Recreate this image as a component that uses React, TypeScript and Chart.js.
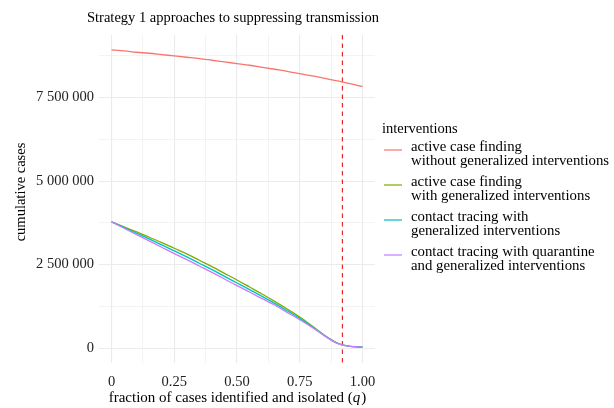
import React, { useEffect, useRef } from "react";
import { Chart, registerables } from "chart.js";

Chart.register(...registerables);

// Fraction of cases identified and isolated (q)
const qValues = [0, 0.05, 0.1, 0.15, 0.2, 0.25, 0.3, 0.35, 0.4, 0.45, 0.5, 0.55, 0.6, 0.65, 0.7, 0.75, 0.8, 0.85, 0.9, 0.95, 1.0];

// Cumulative cases (millions) per intervention
const activeNoGeneral = [8.93, 8.9, 8.86, 8.83, 8.79, 8.75, 8.71, 8.67, 8.62, 8.57, 8.52, 8.47, 8.41, 8.35, 8.29, 8.22, 8.15, 8.08, 8.0, 7.92, 7.83];
const activeGeneral = [3.78, 3.63, 3.48, 3.32, 3.16, 2.99, 2.82, 2.63, 2.44, 2.24, 2.04, 1.83, 1.62, 1.4, 1.17, 0.93, 0.66, 0.38, 0.15, 0.05, 0.03];
const contactGeneral = [3.78, 3.61, 3.44, 3.27, 3.09, 2.91, 2.73, 2.54, 2.35, 2.15, 1.95, 1.75, 1.55, 1.34, 1.12, 0.89, 0.64, 0.37, 0.145, 0.05, 0.03];
const contactQuarantine = [3.78, 3.59, 3.4, 3.21, 3.02, 2.83, 2.65, 2.46, 2.27, 2.07, 1.87, 1.68, 1.48, 1.29, 1.07, 0.85, 0.62, 0.36, 0.14, 0.05, 0.03];

const seriesLabels = [
  ["active case finding", "without generalized interventions"],
  ["active case finding", "with generalized interventions"],
  ["contact tracing with", "generalized interventions"],
  ["contact tracing with quarantine", "and generalized interventions"],
];
const seriesColors = ["#F8766D", "#7CAE00", "#00BFC4", "#C77CFF"];

const xMajorTicks = [0, 0.25, 0.5, 0.75, 1.0];
const xTickLabels = ["0", "0.25", "0.50", "0.75", "1.00"];
const xMinorTicks = [0.125, 0.375, 0.625, 0.875];
const yMajorTicks = [0, 2500000, 5000000, 7500000];
const yTickLabels = ["0", "2 500 000", "5 000 000", "7 500 000"];
const yMinorTicks = [1250000, 3750000, 6250000, 8750000];

const thresholdQ = 0.92;

const FONT = "'Liberation Serif', 'DejaVu Serif', serif";

const toPoints = (vals: number[]) => qValues.map((q, i) => ({ x: q, y: vals[i] * 1e6 }));

const decorations = {
  id: "decorations",
  beforeDatasetsDraw(chart: any) {
    const { ctx, chartArea, scales } = chart;
    const x = scales.x.getPixelForValue(thresholdQ);
    ctx.save();
    ctx.strokeStyle = "#E41A1C";
    ctx.lineWidth = 1.1;
    ctx.setLineDash([4.5, 4]);
    ctx.beginPath();
    ctx.moveTo(x, chartArea.top);
    ctx.lineTo(x, chartArea.bottom);
    ctx.stroke();
    ctx.restore();
  },
  afterDraw(chart: any) {
    const { ctx, chartArea } = chart;
    ctx.save();
    ctx.fillStyle = "#000";
    ctx.textBaseline = "middle";

    // title
    ctx.font = `14.5px ${FONT}`;
    ctx.textAlign = "left";
    ctx.fillText("Strategy 1 approaches to suppressing transmission", 87, 18);

    // x axis title with italic q
    const size = 15;
    const partA = "fraction of cases identified and isolated (";
    const partC = ")";
    ctx.font = `${size}px ${FONT}`;
    const wA = ctx.measureText(partA).width;
    const wC = ctx.measureText(partC).width;
    ctx.font = `italic ${size}px ${FONT}`;
    const wB = ctx.measureText("q").width;
    const total = wA + wB + wC;
    const sx = (chartArea.left + chartArea.right) / 2 - total / 2;
    const ty = 398;
    ctx.textAlign = "left";
    ctx.font = `${size}px ${FONT}`;
    ctx.fillText(partA, sx, ty);
    ctx.font = `italic ${size}px ${FONT}`;
    ctx.fillText("q", sx + wA, ty);
    ctx.font = `${size}px ${FONT}`;
    ctx.fillText(partC, sx + wA + wB + 1, ty);

    // y axis title
    ctx.save();
    ctx.translate(21, (chartArea.top + chartArea.bottom) / 2 - 7);
    ctx.rotate(-Math.PI / 2);
    ctx.textAlign = "center";
    ctx.font = `14.5px ${FONT}`;
    ctx.fillText("cumulative cases", 0, 0);
    ctx.restore();

    // legend
    ctx.textAlign = "left";
    ctx.font = `14.5px ${FONT}`;
    ctx.fillText("interventions", 382, 129);
    const firstLineY = [147, 182, 217, 252];
    seriesLabels.forEach((lines, i) => {
      const y0 = firstLineY[i];
      ctx.strokeStyle = seriesColors[i];
      ctx.lineWidth = 1.2;
      ctx.beginPath();
      ctx.moveTo(384, y0 + 3);
      ctx.lineTo(402, y0 + 3);
      ctx.stroke();
      ctx.font = `14.8px ${FONT}`;
      lines.forEach((ln, j) => ctx.fillText(ln, 411, y0 + j * 14.5));
    });
    ctx.restore();
  },
};

export default function App() {
  const ref = useRef<HTMLCanvasElement | null>(null);

  useEffect(() => {
    if (!ref.current) return;
    const allSeries = [activeNoGeneral, activeGeneral, contactGeneral, contactQuarantine];
    const datasets = allSeries.map((vals, i) => ({
      label: seriesLabels[i].join(" "),
      data: toPoints(vals),
      borderColor: seriesColors[i],
      backgroundColor: seriesColors[i],
      borderWidth: 1.3,
      pointRadius: 0,
      cubicInterpolationMode: "monotone" as const,
      // later series are painted over earlier ones
      order: allSeries.length - 1 - i,
    }));
    const chart = new Chart(ref.current, {
      type: "line",
      data: { datasets },
      plugins: [decorations],
      options: {
        responsive: false,
        animation: false,
        layout: { padding: { left: 0, top: 35, right: 614 - 375, bottom: 0 } },
        plugins: { legend: { display: false }, tooltip: { enabled: false }, title: { display: false } },
        scales: {
          x: {
            type: "linear",
            min: -0.05,
            max: 1.05,
            border: { display: false },
            afterFit: (s: any) => { s.height = 45; },
            afterBuildTicks: (s: any) => {
              s.ticks = [...xMajorTicks, ...xMinorTicks].sort((a, b) => a - b).map((v) => ({ value: v }));
            },
            grid: {
              color: "#EBEBEB",
              lineWidth: (c: any) => (xMajorTicks.includes(c.tick?.value) ? 1.1 : 0.6),
              drawTicks: false,
            },
            ticks: {
              padding: 10,
              color: "#222",
              font: { family: FONT, size: 14.5 },
              maxRotation: 0,
              autoSkip: false,
              callback: (v: any) => {
                const idx = xMajorTicks.indexOf(Number(v));
                return idx >= 0 ? xTickLabels[idx] : "";
              },
            },
          },
          y: {
            type: "linear",
            min: -446000,
            max: 9376000,
            border: { display: false },
            afterFit: (s: any) => { s.width = 99; },
            afterBuildTicks: (s: any) => {
              s.ticks = [...yMajorTicks, ...yMinorTicks].sort((a, b) => a - b).map((v) => ({ value: v }));
            },
            grid: {
              color: "#EBEBEB",
              lineWidth: (c: any) => (yMajorTicks.includes(c.tick?.value) ? 1.1 : 0.6),
              drawTicks: false,
            },
            ticks: {
              padding: 5,
              color: "#222",
              font: { family: FONT, size: 14.5 },
              autoSkip: false,
              callback: (v: any) => {
                const idx = yMajorTicks.indexOf(Number(v));
                return idx >= 0 ? yTickLabels[idx] : "";
              },
            },
          },
        },
      },
    });
    return () => chart.destroy();
  }, []);

  return (
    <div style={{ position: "fixed", left: 0, top: 0, width: 614, height: 408, background: "#fff" }}>
      <canvas ref={ref} width={614} height={408} style={{ display: "block" }} />
    </div>
  );
}
